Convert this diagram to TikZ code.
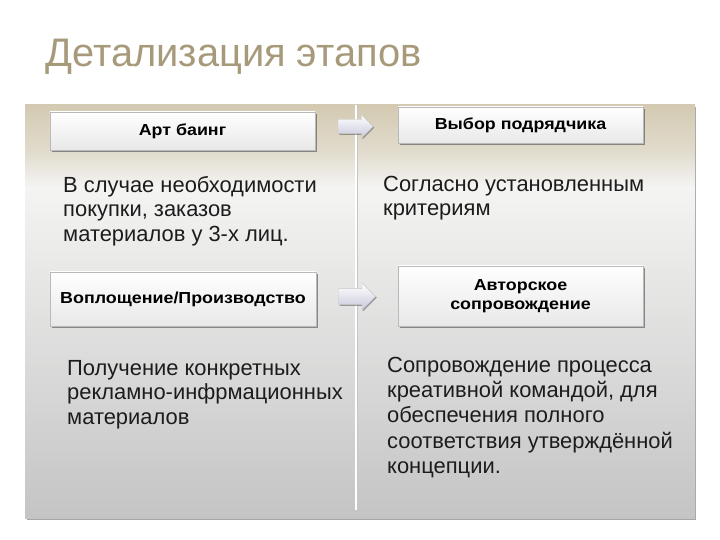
\documentclass[tikz,border=0pt]{standalone}
\usepackage{fontspec}
\setmainfont{Liberation Sans}
\newfontfamily\stagefont[FakeStretch=1.12]{Liberation Sans}
\usetikzlibrary{calc,positioning,shapes.arrows,shadows}
\definecolor{titletan}{RGB}{166,154,122}
\definecolor{paneltan}{RGB}{212,202,178}
\definecolor{panelwhite}{RGB}{244,244,243}
\definecolor{panelgray}{RGB}{196,196,196}
\definecolor{textdark}{RGB}{28,28,28}
\definecolor{arrowlav}{RGB}{200,200,220}
\pgfdeclareverticalshading{panelshade}{100bp}{color(0bp)=(panelgray); color(25bp)=(panelgray); color(65bp)=(panelwhite); color(69.5bp)=(panelwhite!40!paneltan); color(75bp)=(paneltan); color(100bp)=(paneltan)}

\begin{document}
\begin{tikzpicture}[x=1bp,y=-1bp,
    stage/.style={draw=gray!55,line width=.4bp,top color=white,bottom color=gray!18,
      drop shadow={shadow xshift=1.6bp,shadow yshift=-1.6bp,fill=black!70,opacity=.6},
      font=\stagefont\bfseries\fontsize{16}{18}\selectfont,text=black,align=center,inner sep=0pt},
    body/.style={anchor=north west,align=left,inner sep=0pt,text=textdark,
      font=\fontsize{22}{24.5}\selectfont},
    blockarrow/.style={single arrow,draw=gray!45,line width=.3bp,top color=white,bottom color=arrowlav,
      single arrow head extend=4.5bp,inner xsep=0pt,inner ysep=7bp,
      drop shadow={shadow xshift=1.2bp,shadow yshift=-1.2bp,fill=black!70,opacity=.5}}]
  \useasboundingbox (0,0) rectangle (720,540);

  % panel
  \fill[gray!70] (27,107) rectangle (696,520);
  \shade[shading=panelshade] (25,105) rectangle (695,518);
  \draw[gray!45,line width=.6bp] (357.5,105) -- (357.5,510);
  \draw[white,line width=1.3bp] (356,105) -- (356,510);

  \node[anchor=base west,text=titletan,font=\fontsize{40}{44}\selectfont] (title) at (42,67) {Детализация этапов};

  % stages
  \node[stage,minimum width=265bp,minimum height=38bp] (art) at (182.5,131) {Арт баинг};
  \node[stage,minimum width=245bp,minimum height=36bp] (choice) at (520.5,125) {Выбор подрядчика};
  \node[stage,minimum width=266bp,minimum height=54bp] (prod) at (183,299) {Воплощение/Производство};
  \node[stage,minimum width=245bp,minimum height=60bp] (super) at (520.5,296)
    {Авторское\\[1pt]сопровождение};

  \node[blockarrow,minimum height=35bp] (a1) at (352,126.5) {};
  \node[blockarrow,minimum height=37bp,inner ysep=8bp,single arrow head extend=5.5bp] (a2) at (353,296.5) {};

  % descriptions
  \node[body] (artd) at (63,176) {В случае необходимости\\покупки, заказов\\материалов у 3-х лиц.};
  \node[body] (choiced) at (383,176) {Согласно установленным\\критериям};
  \node[body] (prodd) at (67,360) {Получение конкретных\\рекламно-инфрмационных\\материалов};
  \node[body,font=\fontsize{22}{25.3}\selectfont] (superd) at (387,357) {Сопровождение процесса\\креативной командой, для\\обеспечения полного\\соответствия утверждённой\\концепции.};
\end{tikzpicture}
\end{document}
